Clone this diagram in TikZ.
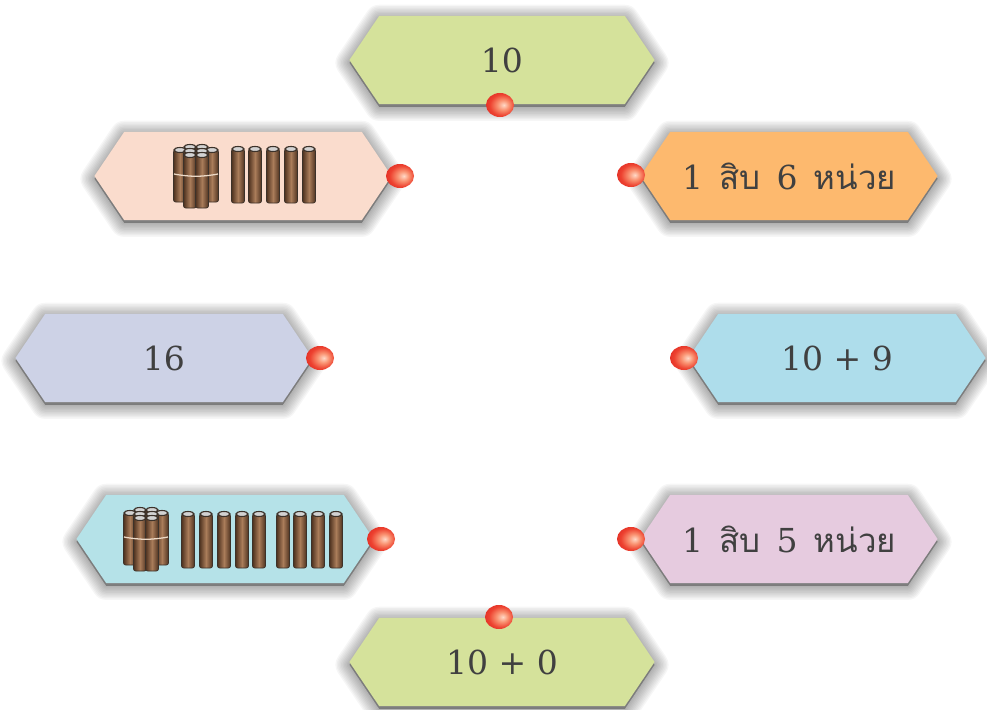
\documentclass[tikz,border=0pt]{standalone}
\usepackage{fontspec}
\usetikzlibrary{shapes}
\usetikzlibrary{shadows}
\setmainfont{DejaVu Serif}
\newfontfamily\thaifont[Script=Thai]{Loma}
\newcommand{\wgap}{\hspace{11.5pt}}
\definecolor{stickdark}{RGB}{78,50,32}
\definecolor{stickmid}{RGB}{170,125,90}
\definecolor{stickrim}{RGB}{60,50,42}
\pgfdeclareradialshading{ballred}{\pgfpoint{7bp}{0bp}}{
    rgb(0bp)=(1,.85,.78); rgb(10bp)=(.98,.58,.45); rgb(22bp)=(.93,.26,.19); rgb(34bp)=(.87,.15,.13); rgb(50bp)=(.8,.12,.12)}
\tikzset{
    myshade/.style = {general shadow={fill=black,draw=black,line width=#1pt,line join=round,opacity=.035,shadow yshift=-2pt}},
    myshadow/.style = {myshade/.list={20,18,16,14,12,10,8,6,4,2}},
    myhex/.style = {signal, signal to=east and west, signal pointer angle=112, draw=none, myshadow,
                    minimum width=7.425cm, minimum height=2.2cm, inner sep=0, align=center,
                    text=black!75, font=\fontsize{23.5}{28}\selectfont},
    myhexw/.style = {myhex, minimum width=7.625cm},
    myhexg/.style = {myhexw, fill={rgb,255:red,213;green,226;blue,155}},
    myhexp/.style = {myhex, fill={rgb,255:red,250;green,220;blue,205}},
    myhexo/.style = {myhex, fill={rgb,255:red,253;green,185;blue,110}},
    myhexl/.style = {myhex, fill={rgb,255:red,205;green,210;blue,230}},
    myhexb/.style = {myhex, fill={rgb,255:red,174;green,221;blue,235}},
    myhext/.style = {myhex, fill={rgb,255:red,181;green,226;blue,232}},
    myhexm/.style = {myhex, fill={rgb,255:red,230;green,203;blue,223}},
    myball/.style = {ellipse, minimum width=0.7cm, minimum height=0.6cm, inner sep=0, shading=ballred},
    pics/stick/.style = {code={
        \draw[stickrim, line width=0.5pt, left color=stickdark, right color=stickdark, middle color=stickmid, rounded corners=1.5pt]
            (-6.5,0) rectangle (6.5,#1);
        \draw[stickrim, line width=0.8pt, fill=gray!35] (0,0) ellipse (6 and 2.5);
    }},
    pics/bundle/.style = {code={
        \foreach \a/\b/\h in {-6/0/50, 6/0/50, -16/3/52, 16/3/52, -6/4/50, 6/4/50, -6/8/53, 6/8/53}
            \pic at (\a,\b) {stick=\h};
        \draw[brown!30!white, line width=0.9pt] (-22,27) .. controls (-6,30) and (6,30) .. (22,27);
    }}
}
\begin{document}
\begin{tikzpicture}[x=0.025cm,y=-0.025cm]
\useasboundingbox (0,0) rectangle (987,710);

\node[myhexg] at (502, 60) (ten) {10};
\node[myhexp] at (243,176) (tensix) {};
\node[myhexo] at (789,176) (words6) {1\wgap{\thaifont สิบ}\wgap 6\wgap{\thaifont หน่วย}};
\node[myhexl] at (164,358) (sixteen) {16};
\node[myhexb] at (837,358) (sum9) {10 + 9};
\node[myhext] at (225,539) (tennine) {};
\node[myhexm] at (789,539) (words5) {1\wgap{\thaifont สิบ}\wgap 5\wgap{\thaifont หน่วย}};
\node[myhexg] at (502,662) (sum0) {10 + 0};

\pic at (196,147) {bundle};
\foreach \x in {238,255,273,291,309}
    \pic at (\x,149) {stick=54};
\pic at (146,510) {bundle};
\foreach \x in {188,206,224,242,259,283,300,318,336}
    \pic at (\x,514) {stick=54};

\node[myball] at (500,105) (balla) {};
\node[myball] at (400,176) (ballb) {};
\node[myball] at (631,175) (ballc) {};
\node[myball] at (320,358) (balld) {};
\node[myball] at (684,358) (balle) {};
\node[myball] at (381,539) (ballf) {};
\node[myball] at (631,539) (ballg) {};
\node[myball] at (499,617) (ballh) {};

\end{tikzpicture}
\end{document}
